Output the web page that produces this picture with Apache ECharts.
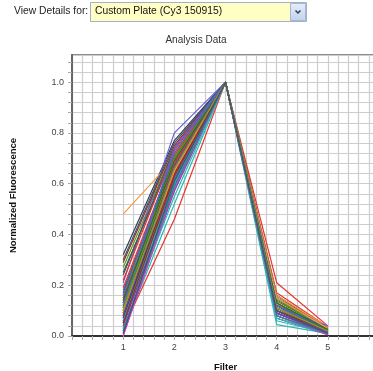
<!DOCTYPE html>
<html>
<head>
<meta charset="utf-8">
<script src="https://cdn.jsdelivr.net/npm/echarts@6/dist/echarts.min.js"></script>
<style>
html,body{margin:0;padding:0;background:#fff;}
#chart{width:373px;height:371px;}
</style>
</head>
<body>
<div id="chart"></div>
<script>
// Filter positions on the x axis
var filters = [1, 2, 3, 4, 5];
// Normalized fluorescence of each well at each filter (one entry per curve)
var atFilter1 = [0.03,0.32,0.27,0.02,0.21,0.00,0.48,0.25,0.29,0.18,0.10,0.06,0.12,0.30,0.22,0.13,0.08,0.05,0.15,0.04,0.16,0.11,0.13,0.09,0.07,0.01,0.14,0.24,0.19,0.09,0.06,0.03,0.10,0.02,0.12,0.17,0.08,0.05,0.13,0.04,0.09,0.11,0.15,0.07,0.11,0.06,0.12,0.00,0.10,0.14,0.05,0.16,0.02,0.08,0.10,0.01];
var atFilter2 = [0.46,0.77,0.74,0.52,0.80,0.62,0.70,0.72,0.75,0.70,0.64,0.60,0.66,0.76,0.73,0.68,0.65,0.58,0.72,0.61,0.69,0.67,0.68,0.63,0.62,0.57,0.71,0.74,0.71,0.66,0.63,0.55,0.68,0.59,0.67,0.70,0.64,0.62,0.66,0.60,0.69,0.67,0.68,0.66,0.70,0.60,0.74,0.58,0.65,0.69,0.63,0.72,0.59,0.67,0.66,0.61];
var atFilter3 = [1,1,1,1,1,1,1,1,1,1,1,1,1,1,1,1,1,1,1,1,1,1,1,1,1,1,1,1,1,1,1,1,1,1,1,1,1,1,1,1,1,1,1,1,1,1,1,1,1,1,1,1,1,1,1,1];
var atFilter4 = [0.21,0.15,0.13,0.045,0.12,0.10,0.14,0.16,0.13,0.11,0.09,0.08,0.12,0.14,0.17,0.15,0.10,0.07,0.11,0.09,0.15,0.13,0.12,0.10,0.08,0.07,0.12,0.14,0.13,0.16,0.11,0.06,0.10,0.08,0.16,0.14,0.11,0.09,0.10,0.09,0.13,0.15,0.12,0.12,0.14,0.07,0.11,0.08,0.15,0.13,0.10,0.12,0.08,0.09,0.11,0.10];
var atFilter5 = [0.04,0.03,0.02,0.01,0.02,0.01,0.03,0.03,0.02,0.02,0.01,0.01,0.02,0.03,0.035,0.025,0.02,0.01,0.02,0.015,0.03,0.02,0.025,0.015,0.01,0.005,0.02,0.03,0.025,0.03,0.02,0.01,0.02,0.01,0.035,0.03,0.02,0.015,0.02,0.01,0.025,0.03,0.02,0.02,0.03,0.01,0.04,0.005,0.03,0.025,0.02,0.02,0.01,0.015,0.02,0.01];
// Tick labels shown
var yTickLabels = ['0.0','0.2','0.4','0.6','0.8','1.0'];
var xTickLabels = ['1','2','3','4','5'];

var palette = ['#e8322b','#2f3f5f','#5b9a16','#2cb8b8','#6b5fd6','#cc3fcc','#f49a48','#2d6a36','#a02828','#3f6fcf','#1f8c8c','#7a3fa0','#8aa020','#445566'];

var columns = [atFilter1, atFilter2, atFilter3, atFilter4, atFilter5];
var series = [];
for (var i = 0; i < atFilter1.length; i++) {
  series.push({
    type: 'line',
    data: filters.map(function (f, j) { return [f, columns[j][i]]; }),
    showSymbol: false,
    symbol: 'none',
    silent: true,
    lineStyle: { width: 1.2 }
  });
}

var chart = echarts.init(document.getElementById('chart'), null, { renderer: 'canvas' });
var font = "'Liberation Sans', Arial, sans-serif";
chart.setOption({
  animation: false,
  color: palette,
  textStyle: { fontFamily: font },
  grid: { left: 72, top: 55, right: -6, bottom: 35, outerBoundsMode: 'none', containLabel: false, show: true, borderColor: '#666', borderWidth: 1.5, backgroundColor: '#fff' },
  graphic: [
    { type: 'text', left: 14, top: 6, style: { text: 'View Details for:', fill: '#222', font: "10.3px 'Liberation Sans', Arial, sans-serif" } },
    { type: 'rect', shape: { x: 90.5, y: 2.5, width: 216, height: 19 }, style: { fill: '#ffffc4', stroke: '#9fb0c8', lineWidth: 1 } },
    { type: 'text', left: 95, top: 6, style: { text: 'Custom Plate (Cy3 150915)', fill: '#111', font: "10.3px 'Liberation Sans', Arial, sans-serif" } },
    { type: 'rect', shape: { x: 290.5, y: 3.5, width: 15, height: 17 }, style: { fill: new echarts.graphic.LinearGradient(0,0,0,1,[{offset:0,color:'#e6eefa'},{offset:1,color:'#c2d2ea'}]), stroke: '#a8b8d2', lineWidth: 1 } },
    { type: 'polyline', shape: { points: [[295.5,10.5],[298,13],[300.5,10.5]] }, style: { stroke: '#2c3e66', lineWidth: 1.5, fill: null } },
    { type: 'text', x: 196, y: 40, style: { text: 'Analysis Data', fill: '#333', align: 'center', verticalAlign: 'middle', font: "10px 'Liberation Sans', Arial, sans-serif" } }
  ],
  xAxis: {
    type: 'value', min: 0, max: 6, interval: 0.2,
    name: 'Filter', nameLocation: 'middle', nameGap: 26,
    nameTextStyle: { fontWeight: 'bold', fontSize: 9.5, color: '#111' },
    axisLine: { show: true, lineStyle: { color: '#333', width: 2 } },
    axisTick: { show: true, length: 4, lineStyle: { color: '#aaa' } },
    axisLabel: {
      fontSize: 9, color: '#444', margin: 7,
      formatter: function (v) {
        var r = Math.round(v);
        if (Math.abs(v - r) < 1e-6 && xTickLabels.indexOf(String(r)) >= 0) return String(r);
        return '';
      }
    },
    splitLine: { show: true, lineStyle: { color: '#cdcdcd', width: 1.2 } }
  },
  yAxis: {
    type: 'value', min: 0, max: 1.107, interval: 0.04,
    name: 'Normalized Fluorescence', nameLocation: 'middle', nameGap: 54, nameRotate: 90,
    nameTextStyle: { fontWeight: 'bold', fontSize: 9.5, color: '#111' },
    axisLine: { show: true, lineStyle: { color: '#666', width: 2 } },
    axisTick: { show: true, length: 4, lineStyle: { color: '#aaa' } },
    axisLabel: {
      fontSize: 9, color: '#444', margin: 8, showMaxLabel: false,
      formatter: function (v) {
        var t = (Math.round(v * 10) / 10).toFixed(1);
        if (Math.abs(v * 5 - Math.round(v * 5)) < 1e-6 && yTickLabels.indexOf(t) >= 0) return t;
        return '';
      }
    },
    splitLine: { show: true, lineStyle: { color: '#cdcdcd', width: 1.2 } }
  },
  series: series
});
</script>
</body>
</html>
